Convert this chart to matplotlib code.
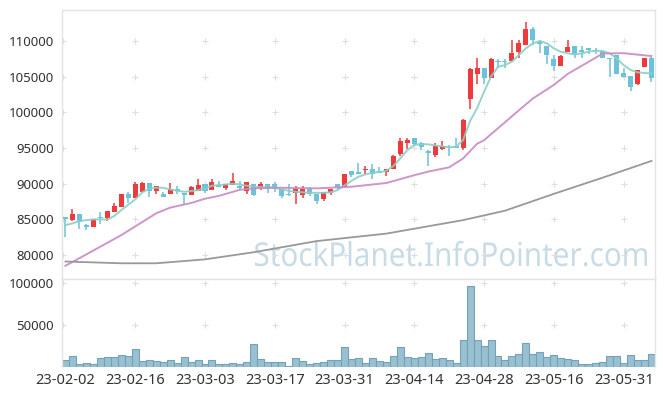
import matplotlib.pyplot as plt
import numpy as np
import pandas as pd
from matplotlib.textpath import TextPath
from matplotlib.patches import PathPatch
from matplotlib.font_manager import FontProperties
import matplotlib.transforms as mtransforms

# trading days (KRX holidays skipped)
holidays = ['2023-03-01', '2023-05-01', '2023-05-05', '2023-05-29', '2023-06-06']
dates = pd.bdate_range('2023-02-02', '2023-06-07', freq='C', holidays=holidays)

opens = [85290, 84900, 85750, 84200, 83970, 85350, 85190, 86070, 86770, 88550,
         88030, 88870, 90090, 89010, 88550, 88600, 89250, 88730, 88370, 89010,
         89950, 89160, 89810, 89390, 89860, 89670, 89010, 90000, 89440, 90000,
         90000, 89300, 88600, 88690, 88450, 89300, 88600, 87850, 88730, 90000,
         89580, 91780, 91640, 91880, 92060, 91730, 91680, 92100, 94200, 95740,
         96360, 95660, 94540, 94060, 94900, 95140, 95320, 94960, 101820, 105380,
         106180, 104770, 107200, 107200, 107250, 108460, 109450, 111690, 109820, 109310,
         107480, 106540, 108460, 109310, 108740, 109020, 108790, 108550, 107670, 108080,
         105470, 105050, 103970, 106320, 107580]
highs = [85290, 86450, 85750, 84300, 85090, 86030, 86210, 87250, 88550, 88880,
         90280, 90230, 90090, 89670, 88880, 90140, 89670, 88730, 89670, 90660,
         89950, 90610, 90330, 89950, 91500, 90330, 90230, 90000, 90190, 90000,
         90190, 89300, 90000, 89670, 89670, 89580, 88600, 88830, 89300, 90000,
         91360, 91780, 92860, 92480, 92720, 92340, 92060, 94060, 96360, 96440,
         96360, 95900, 94720, 95660, 95940, 95420, 96360, 99100, 106200, 107580,
         106180, 107600, 107480, 107480, 110140, 110140, 112620, 111920, 110140, 109310,
         108000, 108100, 110140, 109310, 109310, 109020, 109020, 108550, 107670, 108080,
         106260, 105050, 105890, 107580, 107800]
lows = [82570, 84720, 83600, 83500, 83970, 84300, 84720, 86070, 86770, 87250,
        88030, 88870, 88170, 88550, 88170, 88600, 88550, 87100, 88370, 89010,
        88730, 89160, 89580, 89110, 89860, 89110, 88510, 88310, 89110, 88730,
        88880, 88030, 88310, 87110, 88030, 88310, 87200, 87620, 88450, 89110,
        89580, 90890, 91310, 91400, 90660, 91450, 91030, 92100, 93880, 94900,
        95240, 94720, 92440, 93780, 94720, 93830, 95040, 94760, 100430, 103970,
        103970, 104770, 106180, 106180, 107250, 107580, 109450, 109400, 108270, 106740,
        105840, 106540, 108460, 107580, 107580, 108130, 108130, 107580, 105000, 105420,
        105000, 102990, 103790, 106320, 104250]
closes = [85010, 85750, 84580, 83970, 85000, 85250, 86210, 86910, 88550, 88030,
          89950, 90090, 88970, 89670, 88170, 89300, 88930, 88370, 89490, 89810,
          89010, 90230, 89580, 89950, 90370, 89440, 90230, 88450, 89950, 89300,
          89300, 88310, 88450, 89300, 89300, 88600, 87570, 88830, 89300, 89530,
          91360, 91220, 91400, 92060, 91400, 91540, 92060, 93840, 95980, 96120,
          95600, 95190, 94260, 95240, 95240, 95000, 95040, 98930, 106080, 106180,
          104770, 107520, 107060, 107060, 108320, 109730, 111690, 110140, 109540, 108000,
          106540, 107950, 109160, 108180, 108460, 108740, 108650, 107580, 107530, 105420,
          105000, 103510, 105890, 107580, 104860]
volumes = [8700, 13100, 3600, 4800, 3600, 10700, 11900, 11900, 14300, 13100,
           21400, 7100, 8300, 7100, 6300, 8300, 4800, 11900, 6300, 8300,
           3600, 8300, 3600, 3600, 4800, 3600, 6000, 27400, 9500, 6000,
           6000, 6000, 1200, 10700, 7100, 3600, 4800, 6000, 8300, 8300,
           23800, 9500, 10700, 4800, 10700, 7100, 6000, 13100, 23800, 11900,
           10700, 11900, 16700, 9500, 10700, 8300, 4800, 32100, 96400, 32100,
           25000, 32100, 13100, 8300, 13100, 15500, 28600, 15500, 17900, 11900,
           14300, 10700, 9500, 8300, 3600, 3600, 4800, 6000, 13100, 13100,
           4800, 14300, 8300, 8300, 15500]

ma5 = [84200, 84440, 84770, 84900, 85000, 85000, 85000, 85470, 86310, 87050,
       87810, 88790, 89300, 89440, 89440, 89210, 89010, 88870, 88970, 89110,
       89300, 89720, 89810, 89910, 90000, 89910, 89720, 89580, 89530, 89530,
       89440, 89210, 89010, 88870, 88790, 88730, 88730, 88730, 88790, 89110,
       89770, 90400, 90980, 91310, 91540, 91640, 91820, 92480, 93560, 94720,
       95420, 95560, 95520, 95380, 95240, 95100, 95190, 96120, 98800, 100570,
       102900, 105000, 106400, 106640, 107110, 108040, 108980, 109680, 110000, 109680,
       108980, 108500, 108280, 108130, 108280, 108500, 108650, 108600, 108280, 107580,
       106640, 105940, 105610, 105520, 105470]
ma20_idx = [0, 3, 8, 13, 15, 18, 20, 22, 25, 27, 30, 36, 41, 46, 50, 52, 55, 57,
            59, 60, 65, 67, 70, 72, 75, 77, 80, 84]
ma20 = [78500, 80100, 82800, 85850, 86650, 87300, 87900, 88300, 89150, 89350, 89450,
        89350, 89580, 90100, 91200, 91700, 92300, 93550, 95600, 96100, 100300, 101950,
        103850, 105400, 107100, 108250, 108300, 107900]
ma120_idx = [0, 8, 13, 20, 27, 36, 46, 57, 63, 70, 77, 84]
ma120 = [79100, 78850, 78850, 79400, 80400, 81960, 83010, 84900, 86220, 88580, 90850, 93200]

price_ticks = [80000, 85000, 90000, 95000, 100000, 105000, 110000]
vol_ticks = [50000, 100000]
watermark = 'StockPlanet.InfoPointer.com'

UP = '#ee3a3d'
DOWN = '#6cc2da'
GRID = '#dedede'
SPINE = '#e4e4e4'

x = np.arange(len(dates))
o = np.array(opens); c = np.array(closes)
cols = [UP if cc >= oo else DOWN for oo, cc in zip(o, c)]

fig = plt.figure(figsize=(6.65, 3.96), dpi=100)
ax = fig.add_axes([0.0932, 0.2955, 0.8917, 0.6792])
axv = fig.add_axes([0.0932, 0.0732, 0.8917, 0.2223], sharex=ax)

# watermark: condensed text, stretched to the box it has in the original
tp = TextPath((0, 0), watermark, size=1, prop=FontProperties(family='Noto Sans'))
bb = tp.get_extents()
sx = 392 / bb.width
sy = 23.5 / 0.714
tr = mtransforms.Affine2D().translate(-bb.x0, 0).scale(sx, sy).translate(255, 396 - 266)
ax.add_patch(PathPatch(tp, transform=tr, facecolor='#c8dbe6', edgecolor='none', zorder=0))

# candles
ax.vlines(x, lows, highs, colors=cols, linewidth=1.1, zorder=2)
body = np.maximum(np.abs(c - o), 90)
ax.bar(x, body, bottom=np.minimum(o, c), width=0.72, color=cols, linewidth=0, zorder=3)

ax.plot(x, ma5, color='#8ccfc3', lw=1.4, alpha=0.9, zorder=4)
ax.plot(ma20_idx, ma20, color='#c98ac4', lw=1.4, alpha=0.9, zorder=4)
ax.plot(ma120_idx, ma120, color='#999999', lw=1.3, zorder=4)

axv.bar(x, volumes, width=1.0, color='#99c0d1', edgecolor='#72a2b8', linewidth=0.8)

xt = list(range(0, len(dates), 10))
for a, yt in ((ax, price_ticks), (axv, vol_ticks)):
    gx, gy = np.meshgrid([-0.4] + xt[1:], yt)
    a.plot(gx.ravel(), gy.ravel(), '+', color=GRID, ms=5, mew=0.8, zorder=1)
    a.set_yticks(yt)
    a.tick_params(length=0, labelsize=9.5, labelcolor='#333333', pad=6)
    for s in a.spines.values():
        s.set_color(SPINE)
        s.set_linewidth(1)
    for lab in a.get_yticklabels():
        lab.set_family(['Noto Sans', 'DejaVu Sans'])

ax.set_xlim(-0.5, len(dates) - 0.5)
ax.set_ylim(76650, 114350)
axv.set_ylim(0, 104800)
axv.set_xticks(xt)
axv.set_xticklabels([dates[i].strftime('%y-%m-%d') for i in xt],
                    family=['Noto Sans', 'DejaVu Sans'], fontsize=10.5)
axv.tick_params(axis='x', pad=4)
ax.tick_params(axis='x', labelbottom=False)
axv.spines['bottom'].set_visible(False)

fig.savefig('out.png', dpi=100)
